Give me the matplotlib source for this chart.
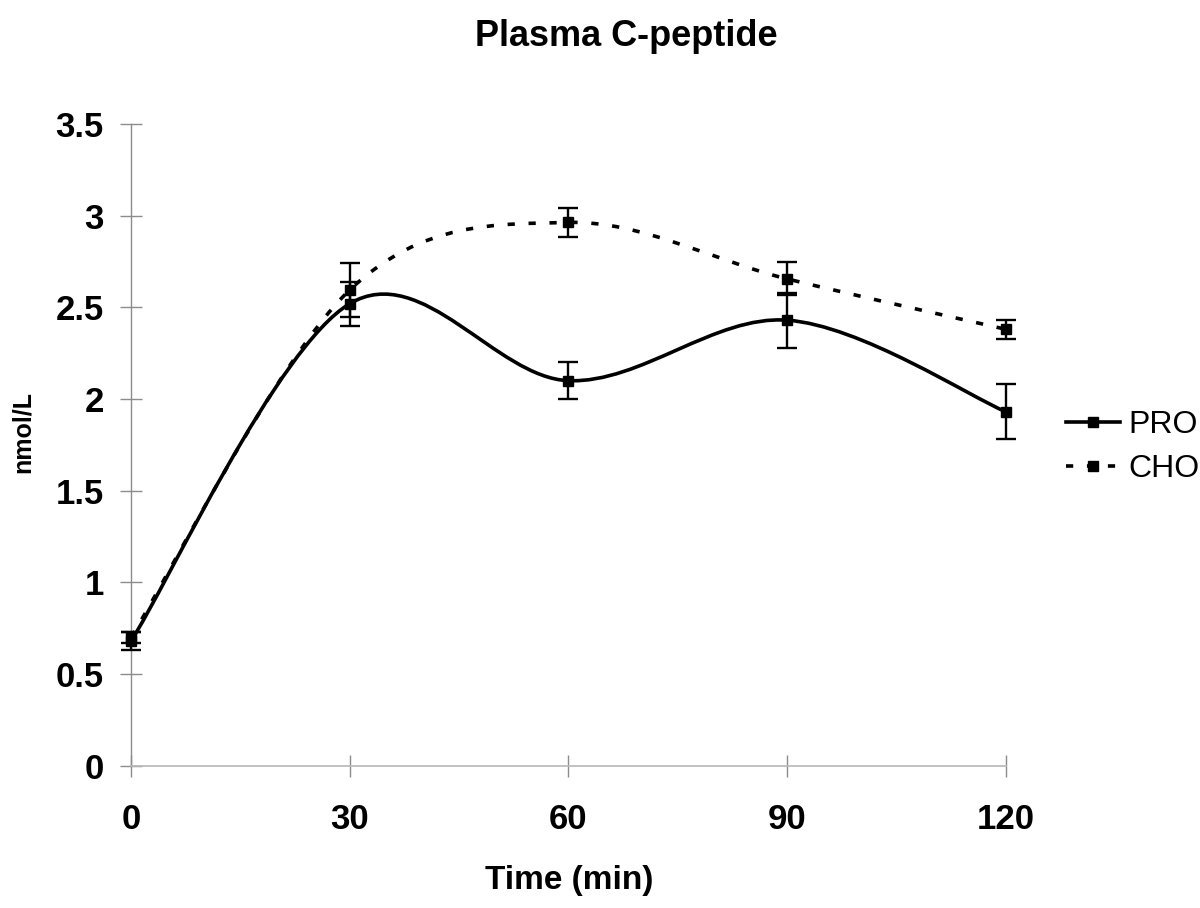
import numpy as np
import matplotlib
matplotlib.use("Agg")
import matplotlib.pyplot as plt
from matplotlib.path import Path
from matplotlib.patches import PathPatch
from matplotlib.lines import Line2D

plt.rcParams['font.family'] = ['Liberation Sans', 'DejaVu Sans']

# data
time = [0, 30, 60, 90, 120]
pro = [0.68, 2.52, 2.10, 2.43, 1.93]
pro_err = [0.05, 0.12, 0.10, 0.15, 0.15]
cho = [0.70, 2.595, 2.963, 2.655, 2.38]
cho_err = [0.03, 0.145, 0.08, 0.09, 0.05]
xticks = [0, 30, 60, 90, 120]
yticks = [0, 0.5, 1, 1.5, 2, 2.5, 3, 3.5]
ytick_labels = ['0', '0.5', '1', '1.5', '2', '2.5', '3', '3.5']


def smooth_path(xs, ys):
    # excel style smoothed line: catmull-rom segments as cubic beziers
    p = np.column_stack([xs, ys]).astype(float)
    n = len(p)
    verts = [p[0]]
    codes = [Path.MOVETO]
    for i in range(n - 1):
        p0 = p[i - 1] if i > 0 else p[i]
        p1 = p[i]
        p2 = p[i + 1]
        p3 = p[i + 2] if i + 2 < n else p[i + 1]
        c1 = p1 + (p2 - p0) / 6.0
        c2 = p2 - (p3 - p1) / 6.0
        verts += [c1, c2, p2]
        codes += [Path.CURVE4] * 3
    return Path(verts, codes)


fig = plt.figure(figsize=(12, 9.08), dpi=100)
ax = fig.add_axes([131 / 1200, 1 - 765.7 / 908, 875 / 1200, (765.7 - 124) / 908])

lw = 2.6
dash = (0, (2.0, 3.8))

ax.add_patch(PathPatch(smooth_path(time, pro), fill=False, edgecolor='black',
                       lw=lw, capstyle='butt', clip_on=False, zorder=3))
ax.add_patch(PathPatch(smooth_path(time, cho), fill=False, edgecolor='black',
                       lw=lw, linestyle=dash, capstyle='butt', clip_on=False, zorder=3))

ax.errorbar(time, pro, yerr=pro_err, fmt='s', color='black', ms=7,
            elinewidth=1.7, capsize=7, capthick=1.7, clip_on=False, zorder=4)
ax.errorbar(time, cho, yerr=cho_err, fmt='s', color='black', ms=7,
            elinewidth=1.7, capsize=7, capthick=1.7, clip_on=False, zorder=4)

ax.set_xlim(0, 120)
ax.set_ylim(0, 3.5)
ax.set_xticks(xticks)
ax.set_xticklabels([str(t) for t in xticks])
ax.set_yticks(yticks)
ax.set_yticklabels(ytick_labels)

for s in ['top', 'right']:
    ax.spines[s].set_visible(False)
ax.spines['left'].set_color('#8c8c8c')
ax.spines['bottom'].set_color('#b8b8b8')
ax.spines['left'].set_linewidth(1)
ax.spines['bottom'].set_linewidth(1.2)

ax.tick_params(axis='both', direction='inout', length=16, width=1,
               color='#8c8c8c', labelsize=25)
ax.tick_params(axis='x', pad=18.5)
ax.tick_params(axis='y', pad=11.5)
for lab in ax.get_xticklabels() + ax.get_yticklabels():
    lab.set_fontweight('bold')

fig.text(626 / 1200, 1 - 36 / 908, 'Plasma C-peptide', ha='center', va='center',
         fontsize=26, fontweight='bold')
fig.text(569 / 1200, 1 - 880 / 908, 'Time (min)', ha='center', va='center',
         fontsize=24, fontweight='bold')
fig.text(23 / 1200, 1 - 432 / 908, 'nmol/L', ha='center', va='center',
         rotation=90, fontsize=18, fontweight='bold')

handles = [
    Line2D([], [], color='black', lw=lw, marker='s', ms=7),
    Line2D([], [], color='black', lw=lw, marker='s', ms=7, linestyle=dash),
]
fig.legend(handles, ['PRO', 'CHO'], loc='upper left',
           bbox_to_anchor=(1066 / 1200, 1 - 410 / 908), frameon=False,
           fontsize=23, handlelength=1.7, handletextpad=0.25,
           labelspacing=0.45, borderpad=0, borderaxespad=0)

fig.savefig('out.png', dpi=100)
